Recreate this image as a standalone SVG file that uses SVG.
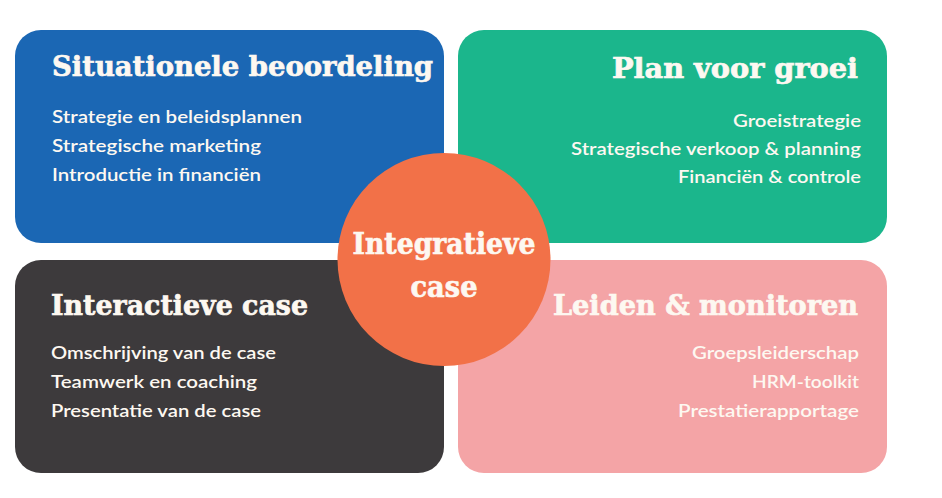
<svg xmlns="http://www.w3.org/2000/svg" width="942" height="498" viewBox="0 0 942 498">
  <style>
    .title { font-family: "DejaVu Serif", "Liberation Serif", serif; font-weight: bold; font-size: 28px; fill: #fdf8f1; stroke: #fdf8f1; stroke-width: 0.7px; }
    .item { font-family: Lato, "Noto Sans", "Liberation Sans", sans-serif; font-weight: 600; font-size: 17.5px; fill: #fdf8f1; }
    .center { font-family: "DejaVu Serif", "Liberation Serif", serif; font-weight: bold; font-size: 30px; fill: #fdf8f1; stroke: #fdf8f1; stroke-width: 0.7px; text-anchor: middle; }
    .end { text-anchor: end; }
  </style>
  <rect width="942" height="498" fill="#ffffff"/>
  <g id="node-situationele">
    <rect x="15" y="30" width="429" height="213" rx="26" fill="#1b67b4"/>
    <text class="title" x="52" y="76" textLength="381" lengthAdjust="spacingAndGlyphs">Situationele beoordeling</text>
    <text class="item" x="52" y="123" textLength="250" lengthAdjust="spacingAndGlyphs">Strategie en beleidsplannen</text>
    <text class="item" x="52" y="152" textLength="209" lengthAdjust="spacingAndGlyphs">Strategische marketing</text>
    <text class="item" x="52" y="181" textLength="209" lengthAdjust="spacingAndGlyphs">Introductie in financiën</text>
  </g>
  <g id="node-plan">
    <rect x="458" y="30" width="429" height="213" rx="26" fill="#1bb68c"/>
    <text class="title end" x="858" y="78" textLength="246" lengthAdjust="spacingAndGlyphs">Plan voor groei</text>
    <text class="item end" x="861" y="127" textLength="128" lengthAdjust="spacingAndGlyphs">Groeistrategie</text>
    <text class="item end" x="861" y="155" textLength="290" lengthAdjust="spacingAndGlyphs">Strategische verkoop &amp; planning</text>
    <text class="item end" x="861" y="183" textLength="183" lengthAdjust="spacingAndGlyphs">Financiën &amp; controle</text>
  </g>
  <g id="node-interactieve">
    <rect x="15" y="260" width="429" height="213" rx="26" fill="#3d3a3c"/>
    <text class="title" x="51" y="315" textLength="257" lengthAdjust="spacingAndGlyphs">Interactieve case</text>
    <text class="item" x="51" y="359" textLength="225" lengthAdjust="spacingAndGlyphs">Omschrijving van de case</text>
    <text class="item" x="51" y="388" textLength="206" lengthAdjust="spacingAndGlyphs">Teamwerk en coaching</text>
    <text class="item" x="51" y="417" textLength="210" lengthAdjust="spacingAndGlyphs">Presentatie van de case</text>
  </g>
  <g id="node-leiden">
    <rect x="458" y="260" width="429" height="213" rx="26" fill="#f4a4a6"/>
    <text class="title end" x="858" y="315" textLength="305" lengthAdjust="spacingAndGlyphs">Leiden &amp; monitoren</text>
    <text class="item end" x="859" y="359" textLength="167" lengthAdjust="spacingAndGlyphs">Groepsleiderschap</text>
    <text class="item end" x="859" y="388" textLength="107" lengthAdjust="spacingAndGlyphs">HRM-toolkit</text>
    <text class="item end" x="859" y="417" textLength="181" lengthAdjust="spacingAndGlyphs">Prestatierapportage</text>
  </g>
  <g id="node-integratieve">
    <circle cx="444" cy="259.5" r="106.5" fill="#f27148"/>
    <text class="center" x="444" y="254" textLength="183" lengthAdjust="spacingAndGlyphs">Integratieve</text>
    <text class="center" x="444" y="297" textLength="67" lengthAdjust="spacingAndGlyphs">case</text>
  </g>
  <g id="connectors"/>
</svg>
